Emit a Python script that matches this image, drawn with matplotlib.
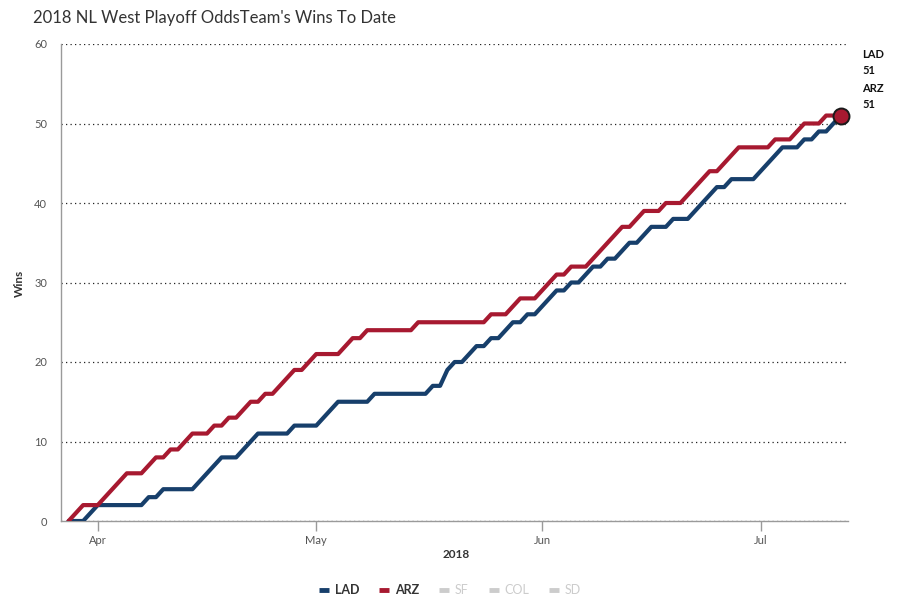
import matplotlib
matplotlib.use('Agg')
import matplotlib.pyplot as plt
import matplotlib.dates as mdates
from matplotlib.lines import Line2D
import pandas as pd

plt.rcParams['font.family'] = ['Lato', 'DejaVu Sans']

# ---------------- data ----------------
start_date = '2018-03-28'
end_date = '2018-07-12'

lad_wins = [0, 0, 0, 1,
            2, 2, 2, 2, 2, 2, 2, 3, 3, 4,
            4, 4, 4, 4, 5, 6, 7, 8, 8, 8,
            9, 10, 11, 11, 11, 11, 11, 12, 12, 12,
            12, 13, 14, 15, 15, 15, 15, 15, 16, 16,
            16, 16, 16, 16, 16, 16, 17, 17, 19, 20,
            20, 21, 22, 22, 23, 23, 24, 25, 25, 26,
            26, 27, 28, 29, 29, 30, 30, 31, 32, 32,
            33, 33, 34, 35, 35, 36, 37, 37, 37, 38,
            38, 38, 39, 40, 41, 42, 42, 43, 43, 43,
            43, 44, 45, 46, 47, 47, 47, 48, 48, 49,
            49, 50, 51]

arz_wins = [0, 1, 2, 2,
            2, 3, 4, 5, 6, 6, 6, 7, 8, 8,
            9, 9, 10, 11, 11, 11, 12, 12, 13, 13,
            14, 15, 15, 16, 16, 17, 18, 19, 19, 20,
            21, 21, 21, 21, 22, 23, 23, 24, 24, 24,
            24, 24, 24, 24, 25, 25, 25, 25, 25, 25,
            25, 25, 25, 25, 26, 26, 26, 27, 28, 28,
            28, 29, 30, 31, 31, 32, 32, 32, 33, 34,
            35, 36, 37, 37, 38, 39, 39, 39, 40, 40,
            40, 41, 42, 43, 44, 44, 45, 46, 47, 47,
            47, 47, 47, 48, 48, 48, 49, 50, 50, 50,
            51, 51, 51]

teams = ['LAD', 'ARZ', 'SF', 'COL', 'SD']
visible_teams = ['LAD', 'ARZ']
team_colors = {'LAD': '#173f6b', 'ARZ': '#a71930',
               'SF': '#cccccc', 'COL': '#cccccc', 'SD': '#cccccc'}

month_ticks = ['2018-04-01', '2018-05-01', '2018-06-01', '2018-07-01']
month_labels = ['Apr', 'May', 'Jun', 'Jul']
y_ticks = [0, 10, 20, 30, 40, 50, 60]

title = "2018 NL West Playoff OddsTeam's Wins To Date"

# ---------------- figure ----------------
dates = pd.date_range(start_date, end_date, freq='D')
xnum = mdates.date2num(dates.to_pydatetime())

fig = plt.figure(figsize=(9, 6), dpi=100)
W, H = 900, 600
ax = fig.add_axes([61 / W, 1 - 521 / H, (848 - 61) / W, (521 - 44) / H])

ax.plot(xnum, lad_wins, color=team_colors['LAD'], lw=3.0,
        solid_joinstyle='round', solid_capstyle='round', zorder=3)
ax.plot(xnum, arz_wins, color=team_colors['ARZ'], lw=3.0,
        solid_joinstyle='round', solid_capstyle='round', zorder=4)
ax.plot(xnum[-1], arz_wins[-1], 'o', ms=11.5, mfc=team_colors['ARZ'],
        mec='#1a1a1a', mew=1.4, zorder=6, clip_on=False)

apr1 = mdates.date2num(pd.Timestamp('2018-04-01').to_pydatetime())
ax.set_xlim(apr1 - 5.04, apr1 + 103.0)
ax.set_ylim(0, 60)

ax.set_yticks(y_ticks)
ax.set_yticklabels([str(v) for v in y_ticks])
tick_pos = [mdates.date2num(pd.Timestamp(t).to_pydatetime()) for t in month_ticks]
ax.set_xticks(tick_pos)
ax.set_xticklabels(month_labels)

ax.yaxis.grid(True, linestyle=(0, (1, 2.6)), color='#222222', lw=0.9)
ax.set_axisbelow(True)
for s in ['top', 'right']:
    ax.spines[s].set_visible(False)
for s in ['left', 'bottom']:
    ax.spines[s].set_color('#9a9a9a')
    ax.spines[s].set_linewidth(1.0)

ax.tick_params(axis='y', length=0, pad=10, labelsize=8, labelcolor='#555555')
ax.tick_params(axis='x', length=7, width=1, color='#9a9a9a', pad=3,
               labelsize=8, labelcolor='#555555')

fig.text(33 / W, 1 - 18 / H, title, fontsize=12, color='#333333',
         ha='left', va='center')
fig.text(19 / W, 1 - 283 / H, 'Wins', rotation=90, fontsize=8.5,
         fontweight='bold', color='#333333', ha='center', va='center')
fig.text(456 / W, 1 - 555 / H, '2018', fontsize=8.5, fontweight='bold',
         color='#333333', ha='center', va='center')

# end labels
fig.text(862 / W, 1 - 55 / H, 'LAD', fontsize=8, fontweight='bold', color='#111111', va='center')
fig.text(862 / W, 1 - 70 / H, str(lad_wins[-1]), fontsize=8, fontweight='bold', color='#111111', va='center')
fig.text(862 / W, 1 - 89 / H, 'ARZ', fontsize=8, fontweight='bold', color='#111111', va='center')
fig.text(862 / W, 1 - 104 / H, str(arz_wins[-1]), fontsize=8, fontweight='bold', color='#111111', va='center')

# legend
handles = [Line2D([0], [0], color=team_colors[t], lw=3.5, solid_capstyle='butt') for t in teams]
leg = fig.legend(handles, teams, ncol=5, loc='center',
                 bbox_to_anchor=(450 / W, 1 - 590 / H), frameon=False,
                 handlelength=0.8, handletextpad=0.45, columnspacing=1.6,
                 prop={'size': 9, 'weight': 'bold'})
for txt, t in zip(leg.get_texts(), teams):
    if t in visible_teams:
        txt.set_color('#333333')
    else:
        txt.set_color('#cccccc')
        txt.set_fontweight('normal')

fig.savefig('out.png', dpi=100)
